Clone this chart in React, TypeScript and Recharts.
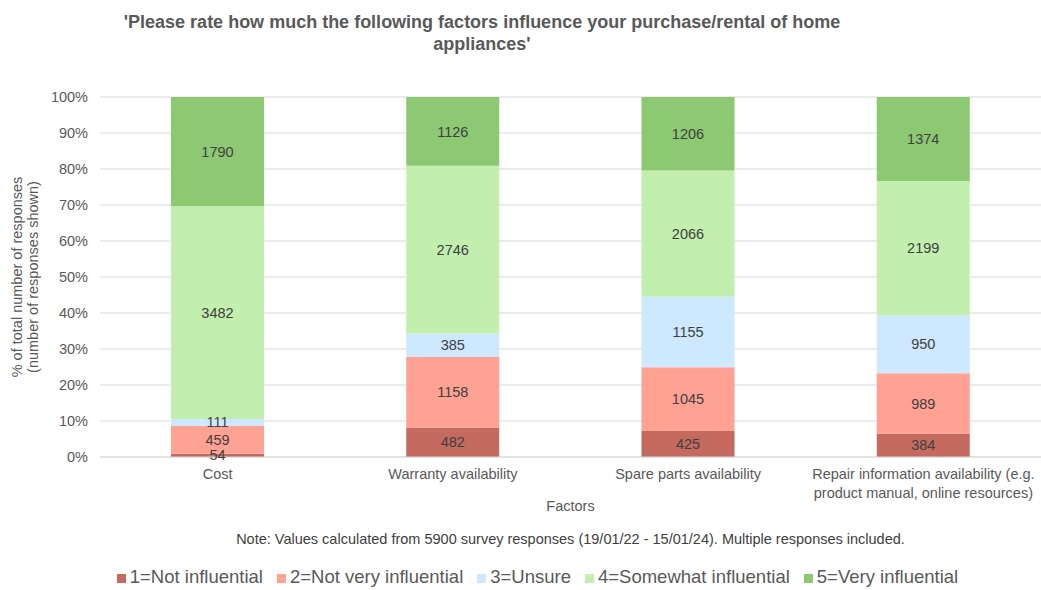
import { BarChart, Bar, XAxis, YAxis, CartesianGrid, Legend, LabelList, Text } from 'recharts';

const factors = [
    'Cost',
    'Warranty availability',
    'Spare parts availability',
    'Repair information availability (e.g. product manual, online resources)',
];
const notInfluential = [54, 482, 425, 384];
const notVeryInfluential = [459, 1158, 1045, 989];
const unsure = [111, 385, 1155, 950];
const somewhatInfluential = [3482, 2746, 2066, 2199];
const veryInfluential = [1790, 1126, 1206, 1374];
const yTicks = [0, 0.1, 0.2, 0.3, 0.4, 0.5, 0.6, 0.7, 0.8, 0.9, 1];

const series = [
    { key: 'r1', name: '1=Not influential', color: '#c56a5e', values: notInfluential },
    { key: 'r2', name: '2=Not very influential', color: '#ffa193', values: notVeryInfluential },
    { key: 'r3', name: '3=Unsure', color: '#cde8ff', values: unsure },
    { key: 'r4', name: '4=Somewhat influential', color: '#c2eeae', values: somewhatInfluential },
    { key: 'r5', name: '5=Very influential', color: '#8dc873', values: veryInfluential },
];

const data = factors.map((factor, i) => {
    const row: Record<string, string | number> = { factor };
    series.forEach(s => { row[s.key] = s.values[i]; });
    return row;
});

const textColor = '#595959';
const font = 'Arial, "Liberation Sans", sans-serif';

function FactorTick(props: any) {
    const { x, y, payload } = props;
    return (
        <Text x={x} y={y + 4} width={242} textAnchor="middle" verticalAnchor="start" lineHeight={19}
            fontSize={14.5} fill={textColor} fontFamily={font}>
            {payload.value}
        </Text>
    );
}

export default function App() {
    return (
        <div style={{ position: 'absolute', left: 0, top: 0, width: 1041, height: 590, background: '#fff', fontFamily: font }}>
            <div style={{ position: 'absolute', left: 0, width: 964, top: 11, textAlign: 'center', fontSize: 18, fontWeight: 'bold', color: textColor, lineHeight: '22px' }}>
                'Please rate how much the following factors influence your purchase/rental of home<br />appliances'
            </div>
            <BarChart width={1041} height={590} data={data} stackOffset="expand"
                margin={{ top: 97, right: 0, bottom: 83, left: 0 }}>
                <CartesianGrid vertical={false} stroke="#d9d9d9" />
                <XAxis dataKey="factor" tick={<FactorTick />} tickLine={false} axisLine={{ stroke: '#d9d9d9' }} interval={0} height={30} />
                <YAxis width={100} ticks={yTicks} domain={[0, 1]} tickFormatter={(v: number) => `${Math.round(v * 100)}%`}
                    axisLine={false} tickLine={false} tickMargin={6}
                    tick={{ fontSize: 14.5, fill: textColor, fontFamily: font }} />
                {series.map(s => (
                    <Bar key={s.key} dataKey={s.key} name={s.name} stackId="a" fill={s.color} barSize={93} isAnimationActive={false}>
                        <LabelList dataKey={s.key} position="center" fontSize={14.5} fill="#404040" fontFamily={font} />
                    </Bar>
                ))}
                <Legend iconType="square" iconSize={9} height={20}
                    wrapperStyle={{ top: 566, left: 24, width: 1041, fontSize: 18.5, fontFamily: font }}
                    formatter={(value: string) => <span style={{ color: textColor, marginRight: 4 }}>{value}</span>} />
            </BarChart>
            <div style={{ position: 'absolute', left: 25, top: 277, width: 0, height: 0 }}>
                <div style={{ position: 'absolute', transform: 'translate(-50%, -50%) rotate(-90deg)', whiteSpace: 'nowrap', textAlign: 'center', fontSize: 14.5, color: textColor, lineHeight: '16px' }}>
                    % of total number of responses<br />(number of responses shown)
                </div>
            </div>
            <div style={{ position: 'absolute', left: 100, width: 941, top: 498, textAlign: 'center', fontSize: 14.5, color: textColor }}>
                Factors
            </div>
            <div style={{ position: 'absolute', left: 100, width: 941, top: 531, textAlign: 'center', fontSize: 14.5, color: '#404040' }}>
                Note: Values calculated from 5900 survey responses (19/01/22 - 15/01/24). Multiple responses included.
            </div>
        </div>
    );
}
